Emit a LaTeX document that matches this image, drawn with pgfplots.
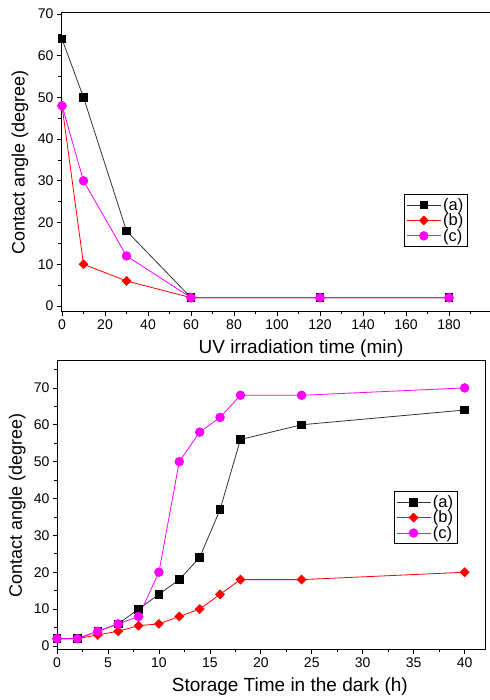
\documentclass[border=0pt]{standalone}
\usepackage{fontspec}
\setmainfont{Liberation Sans}
\usepackage{pgfplots}
\pgfplotsset{compat=1.18}
\definecolor{cmag}{RGB}{255,0,255}
\definecolor{cred}{RGB}{255,0,0}
\definecolor{cblk}{RGB}{50,50,50}

\begin{document}
\begin{tikzpicture}
\pgfplotsset{
  every axis/.append style={
    scale only axis,
    tick align=outside,
    xtick pos=bottom, ytick pos=left,
    /pgf/number format/assume math mode=true,
    tick label style={font=\fontsize{14}{14}\selectfont},
    major tick length=4pt, minor tick length=2.5pt,
    axis line style={line width=1pt},
    every tick/.style={line width=0.7pt, black},
    legend style={font=\fontsize{16.5}{17}\selectfont, draw=black, line width=0.7pt, inner sep=2pt, row sep=-2pt, cells={anchor=west}},
    legend image code/.code={\draw[mark repeat=2,mark phase=2] plot coordinates {(0pt,0pt) (17pt,0pt) (34pt,0pt)};},
  },
  sa/.style={draw=cblk, line width=0.8pt, mark=square*, mark size=3.8pt, mark options={fill=black, draw=black, solid}},
  sb/.style={draw=cred, line width=0.8pt, mark=square*, mark size=3.1pt, mark options={fill=cred, draw=cred, solid, rotate=45}},
  sc/.style={draw=cmag, line width=0.8pt, mark=*, mark size=4.3pt, mark options={fill=cmag, draw=cmag, solid}},
}
\begin{axis}[at={(61pt,388pt)}, anchor=south west, width=431pt, height=299pt,
  xmin=-0.47, xmax=200, ymin=-1.44, ymax=70.24,
  xtick={0,20,...,180}, minor xtick={10,30,...,190},
  ytick={0,10,...,70}, minor ytick={5,15,...,65},
  xlabel={UV irradiation time (min)}, ylabel={Contact angle (degree)},
  xlabel style={at={(axis description cs:0.557,-0.124)}, anchor=center, font=\fontsize{19}{19}\selectfont},
  ylabel style={at={(axis description cs:-0.095,0.5)}, anchor=center, font=\fontsize{18}{18}\selectfont},
  legend style={at={(axis description cs:0.796,0.395)}, anchor=north west},
]
\addplot[sa] coordinates {(0,64) (10,50) (30,18) (60,2) (120,2) (180,2)};
\addlegendentry{(a)}
\addplot[sb] coordinates {(0,48) (10,10) (30,6) (60,2) (120,2) (180,2)};
\addlegendentry{(b)}
\addplot[sc] coordinates {(0,48) (10,30) (30,12) (60,2) (120,2) (180,2)};
\addlegendentry{(c)}
\end{axis}

\begin{axis}[at={(57pt,50pt)}, anchor=south west, width=428pt, height=289pt,
  xmin=0, xmax=42, ymin=-1.09, ymax=77.3,
  xtick={0,5,...,40}, minor xtick={2.5,7.5,...,40},
  ytick={0,10,...,70}, minor ytick={5,15,...,75},
  xlabel={Storage Time in the dark (h)}, ylabel={Contact angle (degree)},
  xlabel style={at={(axis description cs:0.544,-0.128)}, anchor=center, font=\fontsize{19}{19}\selectfont},
  ylabel style={at={(axis description cs:-0.093,0.5)}, anchor=center, font=\fontsize{18}{18}\selectfont},
  legend style={at={(axis description cs:0.787,0.550)}, anchor=north west},
]
\addplot[sa] coordinates {(0,2) (2,2) (4,4) (6,6) (8,10) (10,14) (12,18) (14,24) (16,37) (18,56) (24,60) (40,64)};
\addlegendentry{(a)}
\addplot[sb] coordinates {(0,2) (2,2) (4,3) (6,4) (8,5.5) (10,6) (12,8) (14,10) (16,14) (18,18) (24,18) (40,20)};
\addlegendentry{(b)}
\addplot[sc] coordinates {(0,2) (2,2) (4,4) (6,6) (8,8) (10,20) (12,50) (14,58) (16,62) (18,68) (24,68) (40,70)};
\addlegendentry{(c)}
\end{axis}
\pgfresetboundingbox
\useasboundingbox (0,0) rectangle (489pt,700pt);
\end{tikzpicture}
\end{document}
